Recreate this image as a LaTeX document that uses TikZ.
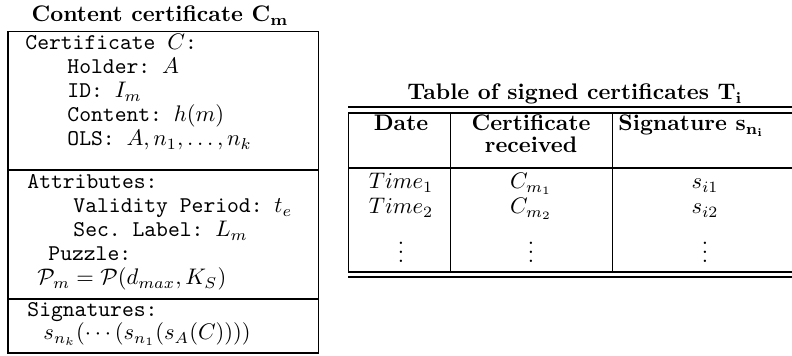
\documentclass[tikz,border=0pt]{standalone}
\usepackage{amsmath}
\usetikzlibrary{positioning}
\frenchspacing
\begin{document}
\begin{tikzpicture}[
    x=0.444pt, y=-0.444pt,
    rule/.style={line width=0.45pt},
    entry/.style={anchor=base west, inner sep=0pt, font=\ttfamily},
    cell/.style={anchor=base, inner sep=0pt},
    heading/.style={anchor=base, inner sep=0pt, font=\bfseries}
]
\useasboundingbox (0,0) rectangle (792,356);
% content certificate
\node[heading] (certtitle) at (160,22) {Content certificate $\mathbf{C_m}$};
\draw[rule] (8,32) rectangle (318,353);
\draw[rule] (8,170) -- (318,170);
\draw[rule] (8,299) -- (318,299);
\node[entry] (cert) at (25,50) {Certificate $C$:};
\node[entry] (holder) at (67,74) {Holder: $A$};
\node[entry] (id) at (67,98) {ID: $I_m$};
\node[entry] (content) at (67,122) {Content: $h(m)$};
\node[entry] (ols) at (67,146) {OLS: $A,n_1,\dots,n_k$};
\node[entry] (attr) at (27,189) {Attributes:};
\node[entry] (validity) at (73,213) {Validity Period: $t_e$};
\node[entry] (seclabel) at (73,237) {Sec. Label: $L_m$};
\node[entry] (puzzle) at (48,261) {Puzzle:};
\node[entry] (puzzleval) at (37,285) {$\mathcal{P}_m=\mathcal{P}(d_{max},K_S)$};
\node[entry] (sigs) at (27,317) {Signatures:};
\node[entry] (sigchain) at (43,340) {$s_{n_k}(\cdots(s_{n_1}(s_A(C))))$};
% table of signed certificates
\node[heading] (tabtitle) at (575,100) {Table of signed certificates $\mathbf{T_i}$};
\draw[rule] (348,107) -- (792,107);
\draw[rule] (348,113) -- (792,113);
\draw[rule] (348,168) -- (792,168);
\draw[rule] (348,272) -- (792,272);
\draw[rule] (348,277) -- (792,277);
\draw[rule] (348,113) -- (348,272);
\draw[rule] (450,113) -- (450,272);
\draw[rule] (612,113) -- (612,272);
\node[heading] (date) at (401,131) {Date};
\node[heading] (certrec) at (531,131) {Certificate};
\node[heading] (received) at (531,153) {received};
\node[heading, anchor=base west] (signature) at (618,131) {Signature $\mathbf{s_{n_i}}$};
\node[cell] (time1) at (401,189) {$Time_1$};
\node[cell] (time2) at (401,214) {$Time_2$};
\node[cell] (cm1) at (531,189) {$C_{m_1}$};
\node[cell] (cm2) at (531,214) {$C_{m_2}$};
\node[cell] (si1) at (705,189) {$s_{i1}$};
\node[cell] (si2) at (705,214) {$s_{i2}$};
\node[cell] (dots1) at (401,263) {$\vdots$};
\node[cell] (dots2) at (531,263) {$\vdots$};
\node[cell] (dots3) at (705,263) {$\vdots$};
\end{tikzpicture}
\end{document}
